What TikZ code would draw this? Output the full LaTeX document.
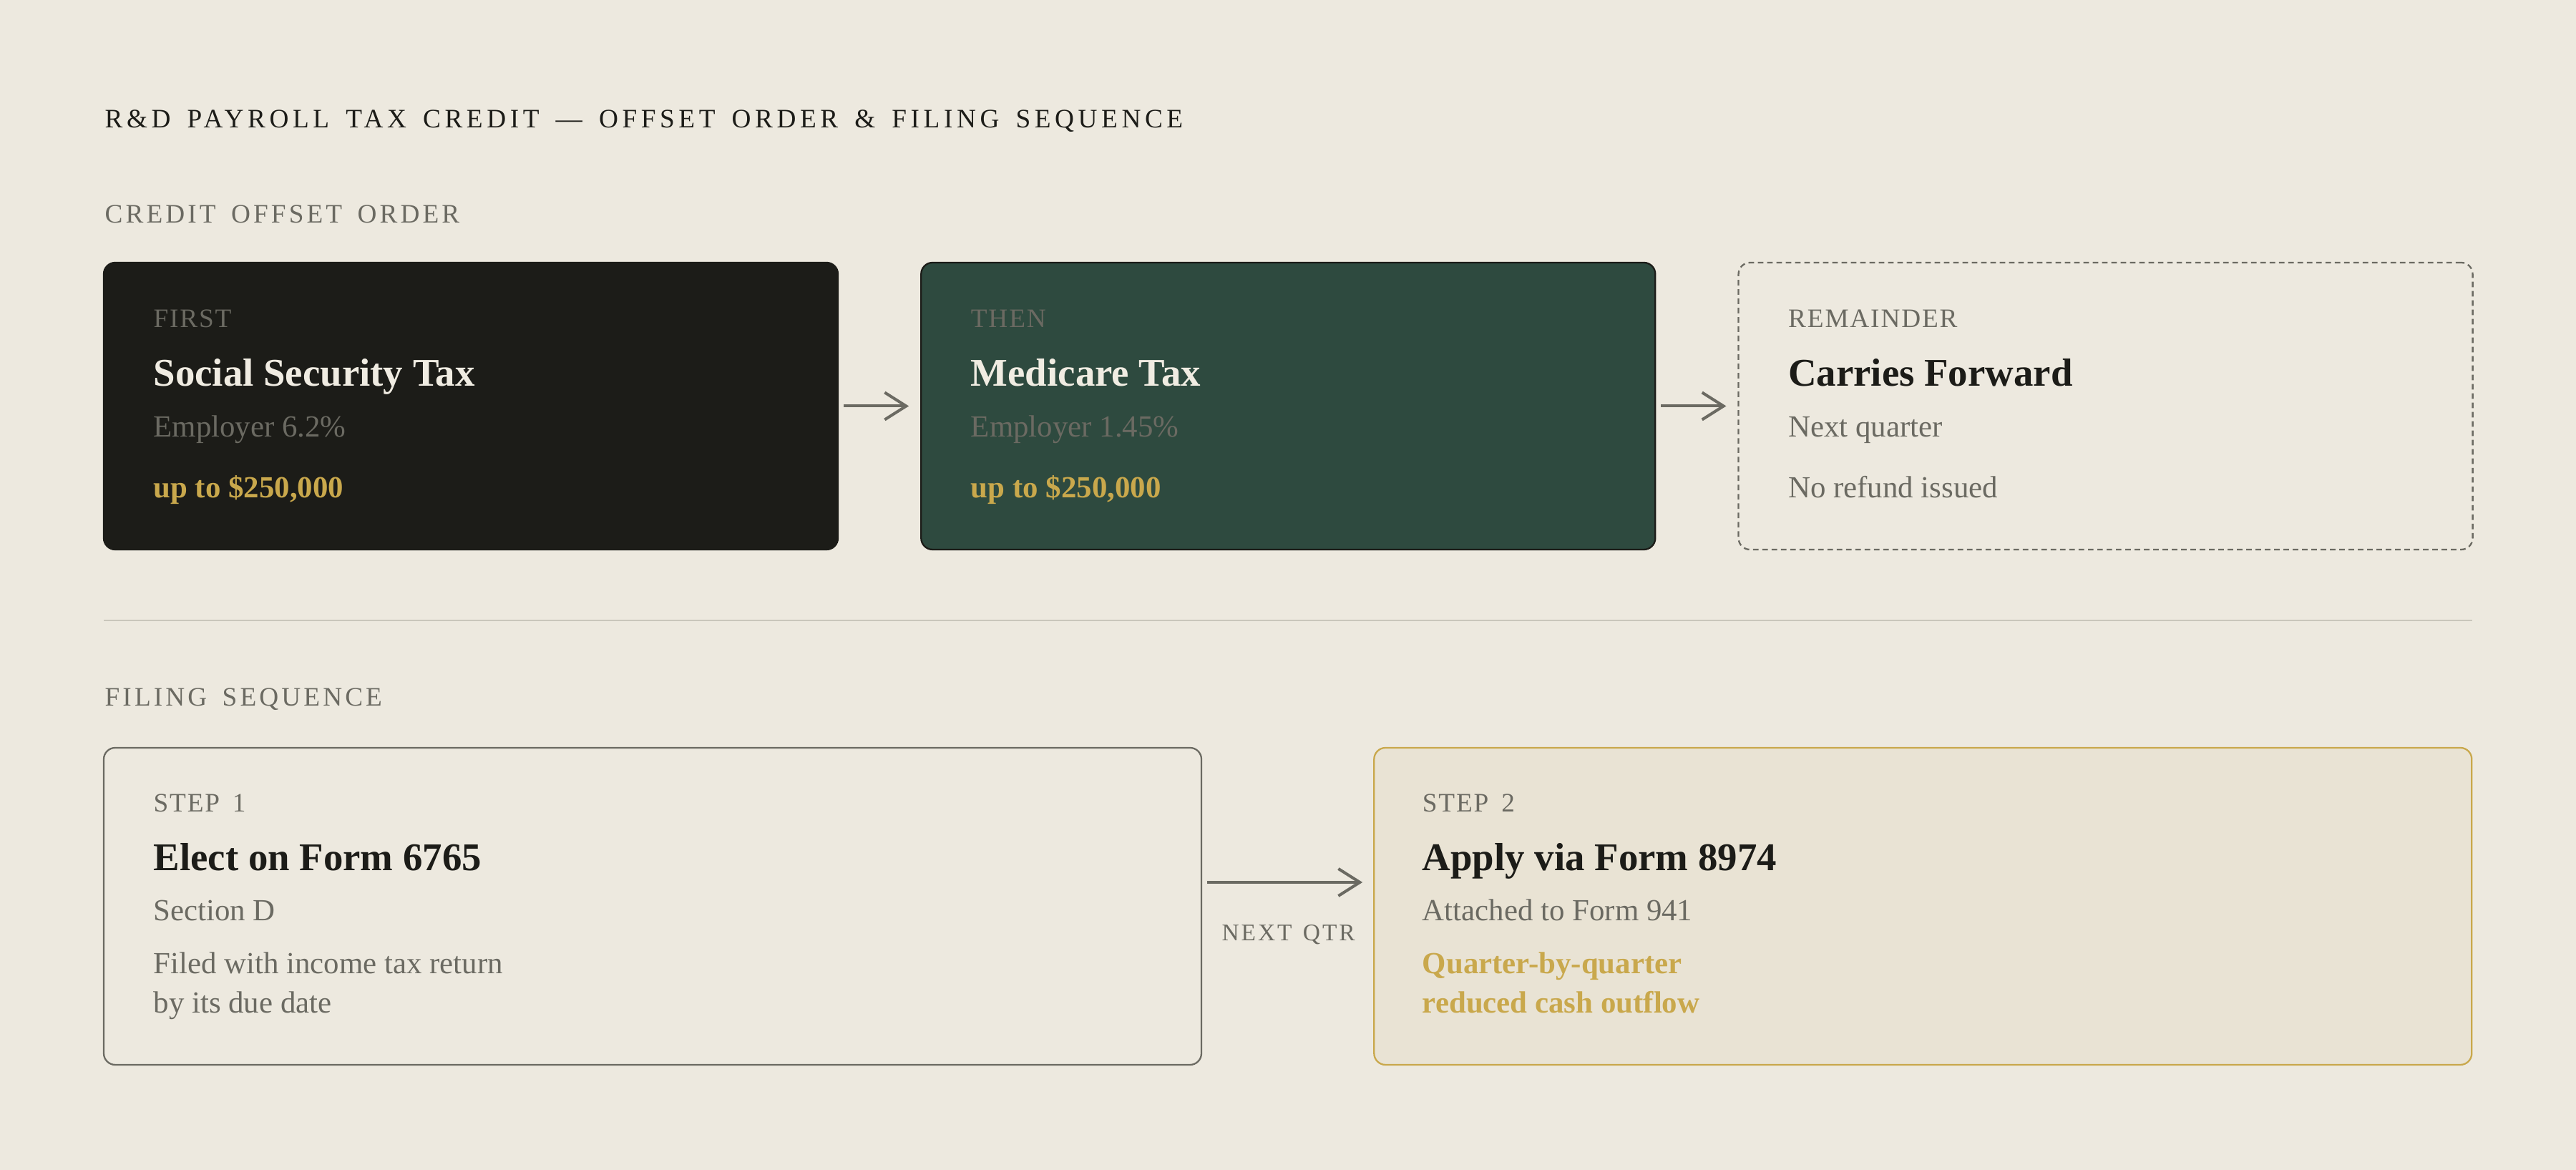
\documentclass[tikz,border=0pt]{standalone}
\usepackage{fontspec}
\setmainfont{Liberation Serif}
\usetikzlibrary{arrows.meta, positioning}

\definecolor{paper}{HTML}{EDE9DF}
\definecolor{ink}{HTML}{1C1C18}
\definecolor{pine}{HTML}{2E4A3F}
\definecolor{cream}{HTML}{F0ECE2}
\definecolor{stone}{HTML}{6B6A62}
\definecolor{gold}{HTML}{C9A84C}
\definecolor{sand}{HTML}{E9E3D4}
\definecolor{rulegray}{HTML}{C9C6BB}

\newcommand{\widen}[1]{\spaceskip=#1\fontdimen2\font\relax}

\tikzset{
  card/.style={rectangle, rounded corners=1.6mm, minimum width=10.26cm, minimum height=4.01cm, line width=0.65pt, inner sep=0pt},
  stepcard/.style={card, minimum width=15.34cm, minimum height=4.43cm},
  heading/.style={anchor=base west, inner sep=0pt, text=ink, font=\fontsize{10.6}{12}\selectfont\addfontfeatures{LetterSpace=15}, execute at begin node=\widen{1.55}},
  section/.style={anchor=base west, inner sep=0pt, text=stone, font=\fontsize{10.6}{12}\selectfont\addfontfeatures{LetterSpace=11}, execute at begin node=\widen{1.6}},
  kicker/.style={anchor=base west, inner sep=0pt, text=stone, font=\fontsize{10.6}{12}\selectfont\addfontfeatures{LetterSpace=5}, execute at begin node=\widen{1.6}},
  head/.style={anchor=base west, inner sep=0pt, font=\fontsize{15.6}{18}\selectfont\bfseries},
  sub/.style={anchor=base west, inner sep=0pt, text=stone, font=\fontsize{12.2}{14}\selectfont},
  note/.style={anchor=base west, inner sep=0pt, text=gold, font=\fontsize{12.2}{14}\selectfont\bfseries},
  qtr/.style={midway, anchor=base, xshift=0.5mm, yshift=-8.2mm, inner sep=0pt, text=stone, font=\fontsize{9.5}{11}\selectfont\addfontfeatures{LetterSpace=9}, execute at begin node=\widen{1.35}},
  flow/.style={draw=stone, line width=1.15pt, -{Straight Barb[length=3mm, width=3.8mm, line width=1.15pt]}},
}

\begin{document}
\begin{tikzpicture}
  %tikz  payroll credit, offset order and filing
    \useasboundingbox (0,0) rectangle (36,16.35);
    \fill[paper] (0,0) rectangle (36,16.35);
    \node[heading] (title) at (1.46,14.56) {R\&D PAYROLL TAX CREDIT — OFFSET ORDER \& FILING SEQUENCE};
    \node[section] (offset) at (1.46,13.23) {CREDIT OFFSET ORDER};
    % offset order cards
    \node[card, fill=ink, draw=ink] (first) at (6.58,10.675) {};
    \node[card, fill=pine, draw=ink, right=1.14cm of first] (then) {};
    \node[card, fill=paper, draw=stone, dash pattern=on 2.2pt off 1.5pt, right=1.14cm of then] (rest) {};
    \node[kicker] (firstk) at ([xshift=7mm, yshift=-9.2mm]first.north west) {FIRST};
    \node[head, text=cream] (firsth) at ([xshift=7mm, yshift=-17.4mm]first.north west) {Social Security Tax};
    \node[sub] (firsts) at ([xshift=7mm, yshift=-24.5mm]first.north west) {Employer 6.2\%};
    \node[note] (firstn) at ([xshift=7mm, yshift=-33mm]first.north west) {up to \$250,000};
    \node[kicker] (thenk) at ([xshift=7mm, yshift=-9.2mm]then.north west) {THEN};
    \node[head, text=cream] (thenh) at ([xshift=7mm, yshift=-17.4mm]then.north west) {Medicare Tax};
    \node[sub] (thens) at ([xshift=7mm, yshift=-24.5mm]then.north west) {Employer 1.45\%};
    \node[note] (thenn) at ([xshift=7mm, yshift=-33mm]then.north west) {up to \$250,000};
    \node[kicker] (restk) at ([xshift=7mm, yshift=-9.2mm]rest.north west) {REMAINDER};
    \node[head, text=ink] (resth) at ([xshift=7mm, yshift=-17.4mm]rest.north west) {Carries Forward};
    \node[sub] (rests) at ([xshift=7mm, yshift=-24.5mm]rest.north west) {Next quarter};
    \node[sub] (restn) at ([xshift=7mm, yshift=-33mm]rest.north west) {No refund issued};
    \draw[flow] ([xshift=0.7mm]first.east) -- ([xshift=-1.6mm]then.west);
    \draw[flow] ([xshift=0.7mm]then.east) -- ([xshift=-1.6mm]rest.west);
    % divider
    \draw[rulegray, line width=0.7pt] (1.45,7.68) -- (34.55,7.68);
    \node[section] (filing) at (1.46,6.48) {FILING SEQUENCE};
    % filing steps
    \node[stepcard, fill=paper, draw=stone] (stepA) at (9.12,3.685) {};
    \node[stepcard, fill=sand, draw=gold, right=2.39cm of stepA] (stepB) {};
    \node[kicker] (stepAk) at ([xshift=7mm, yshift=-9.1mm]stepA.north west) {STEP 1};
    \node[head, text=ink] (stepAh) at ([xshift=7mm, yshift=-17.3mm]stepA.north west) {Elect on Form 6765};
    \node[sub] (stepAs) at ([xshift=7mm, yshift=-24.3mm]stepA.north west) {Section D};
    \node[sub] (stepAn) at ([xshift=7mm, yshift=-31.7mm]stepA.north west) {Filed with income tax return};
    \node[sub] (stepAm) at ([xshift=7mm, yshift=-37.2mm]stepA.north west) {by its due date};
    \node[kicker] (stepBk) at ([xshift=6.8mm, yshift=-9.1mm]stepB.north west) {STEP 2};
    \node[head, text=ink] (stepBh) at ([xshift=6.8mm, yshift=-17.3mm]stepB.north west) {Apply via Form 8974};
    \node[sub] (stepBs) at ([xshift=6.8mm, yshift=-24.3mm]stepB.north west) {Attached to Form 941};
    \node[note] (stepBn) at ([xshift=6.8mm, yshift=-31.7mm]stepB.north west) {Quarter-by-quarter};
    \node[note] (stepBm) at ([xshift=6.8mm, yshift=-37.2mm]stepB.north west) {reduced cash outflow};
    \draw[flow] ([xshift=0.7mm, yshift=3.35mm]stepA.east) -- node[qtr] (next) {NEXT QTR} ([xshift=-1.5mm, yshift=3.35mm]stepB.west);
  \end{tikzpicture}
\end{document}
